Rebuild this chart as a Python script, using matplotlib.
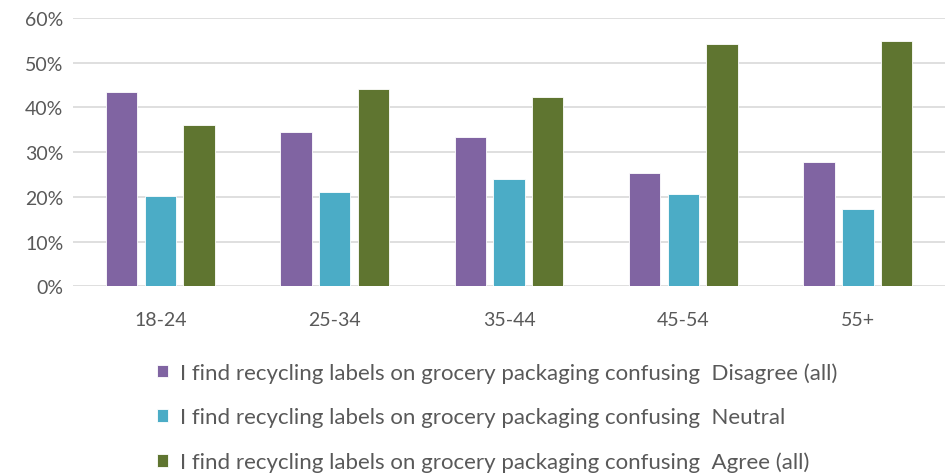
import matplotlib.pyplot as plt
import numpy as np

plt.rcParams['font.family'] = ['Lato', 'DejaVu Sans']

age_groups = ['18-24', '25-34', '35-44', '45-54', '55+']
disagree = [43.4, 34.6, 33.5, 25.4, 27.7]
neutral = [20.2, 21.1, 23.9, 20.6, 17.4]
agree = [36.0, 44.1, 42.3, 54.1, 54.9]

labels = [
    'I find recycling labels on grocery packaging confusing  Disagree (all)',
    'I find recycling labels on grocery packaging confusing  Neutral',
    'I find recycling labels on grocery packaging confusing  Agree (all)',
]
colors = ['#8064a2', '#4bacc6', '#5f7530']

fig = plt.figure(figsize=(9.52, 4.77), dpi=100)
ax = fig.add_axes([0.0767, 0.3977, 0.916, 0.5623])

x = np.arange(len(age_groups))
width = 0.18
step = 0.222
for i, (vals, lab, col) in enumerate(zip([disagree, neutral, agree], labels, colors)):
    ax.bar(x + (i - 1) * step, vals, width, color=col, label=lab,
           edgecolor='white', linewidth=0.6, zorder=3)

ax.set_xlim(-0.5, len(age_groups) - 0.5)
ax.set_ylim(0, 60)
ax.set_yticks(range(0, 61, 10))
ax.set_yticklabels([f'{v}%' for v in range(0, 61, 10)])
ax.set_xticks(x)
ax.set_xticklabels(age_groups)
ax.yaxis.grid(True, color='#d9d9d9', linewidth=1.2, zorder=0)
ax.set_axisbelow(True)
for s in ax.spines.values():
    s.set_visible(False)
ax.tick_params(axis='both', length=0, labelsize=14, colors='#595959')
ax.tick_params(axis='x', pad=18)
ax.tick_params(axis='y', pad=7)

handles, labs = ax.get_legend_handles_labels()
leg = fig.legend(handles, labs, loc='upper left', bbox_to_anchor=(0.153, 0.262),
                 frameon=False, fontsize=16, labelcolor='#595959',
                 handlelength=0.5, handleheight=0.5, handletextpad=0.55,
                 labelspacing=1.1, borderpad=0)

fig.savefig('out.png', dpi=100)
